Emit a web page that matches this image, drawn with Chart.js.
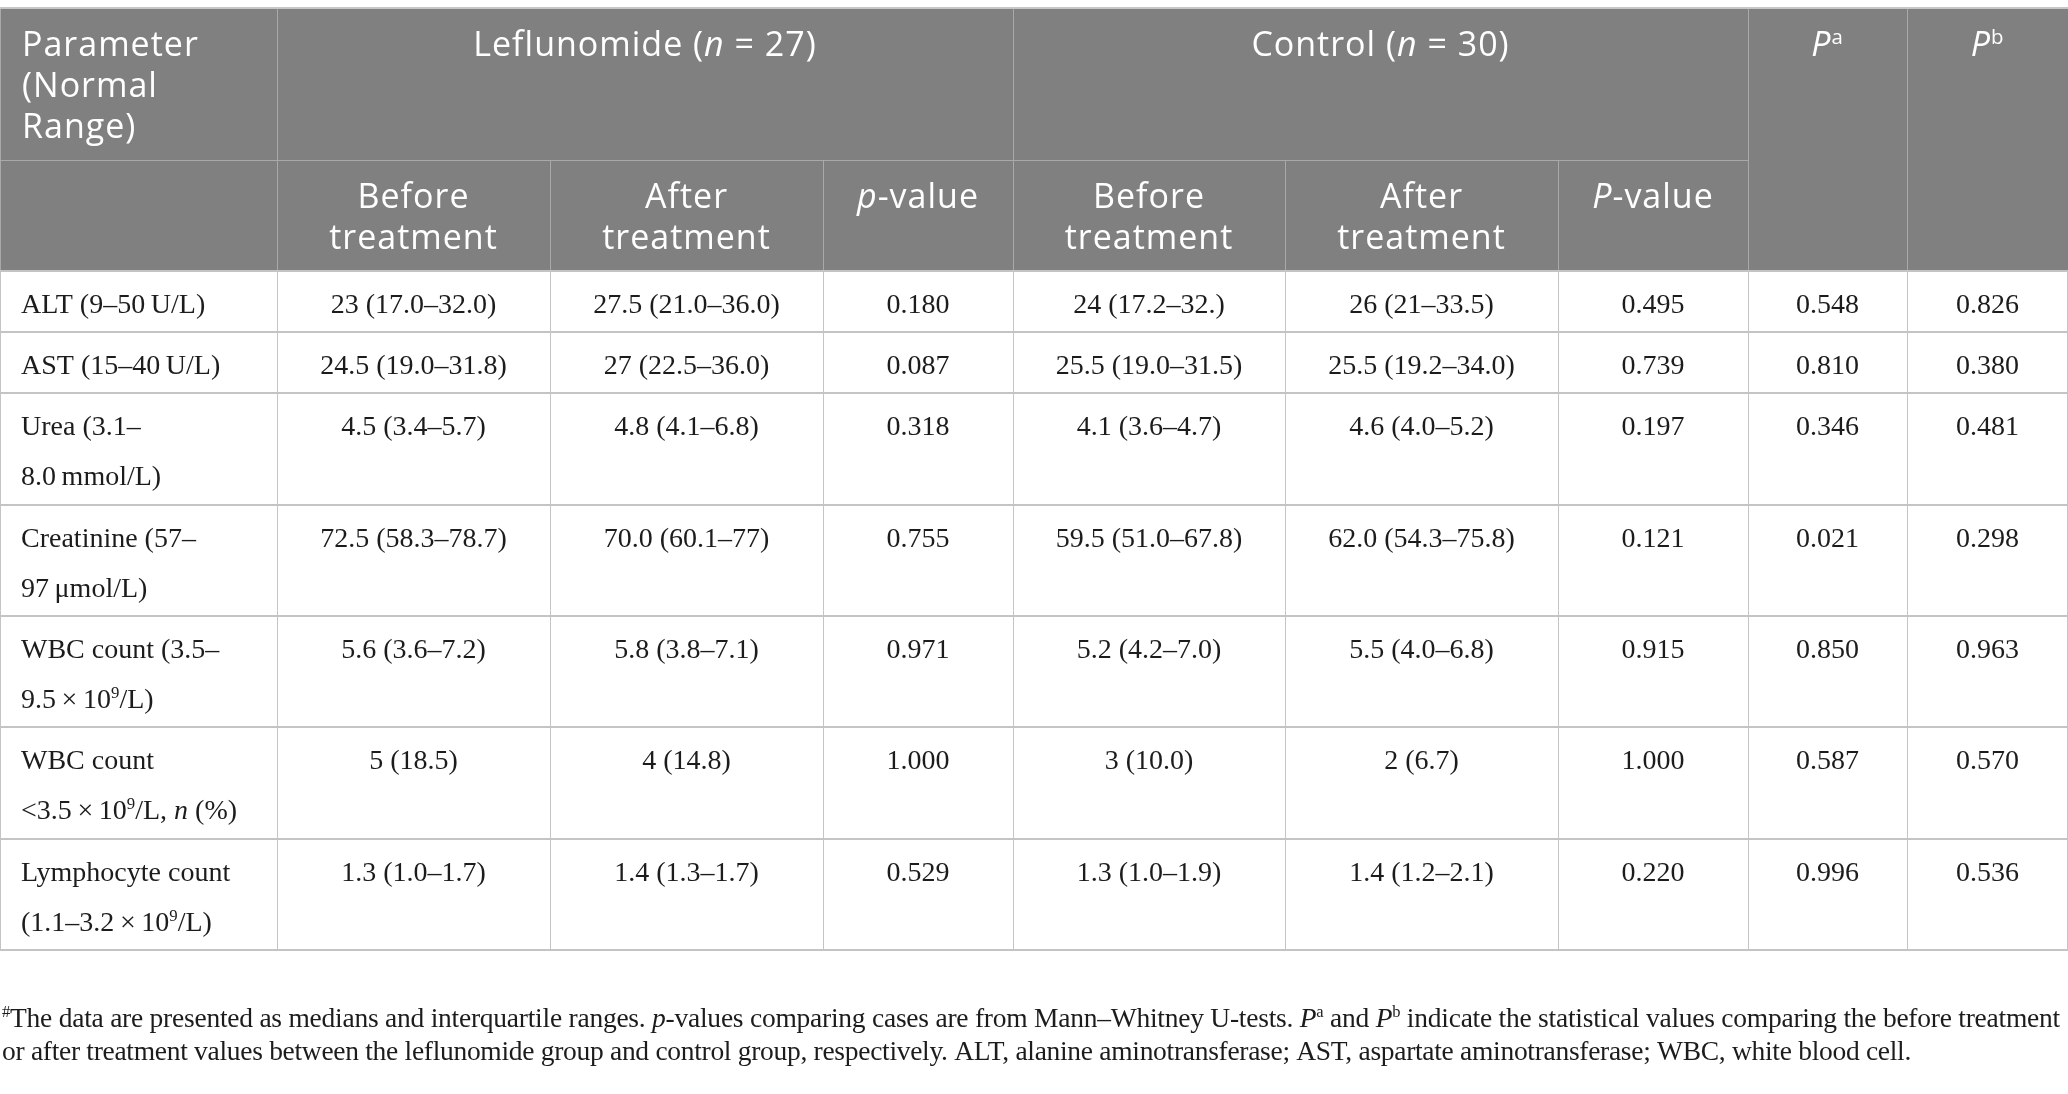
<!DOCTYPE html>
<html>
<head>
<meta charset="utf-8">
<script src="https://cdn.jsdelivr.net/npm/chart.js@4"></script>
<style>
  html, body { margin: 0; padding: 0; background: #fff; }
  #wrap { position: relative; width: 2068px; height: 1094px; }
</style>
</head>
<body>
<div id="wrap"><canvas id="tableChart"></canvas></div>
<script>
// --- Table data (markup: _italic_, ^superscript^) ---
const headerParam = 'Parameter\n(Normal\nRange)';
const groupHeaders = ['Leflunomide (_n_ = 27)', 'Control (_n_ = 30)'];
const subHeaders = ['Before\ntreatment', 'After\ntreatment', '_p_-value', 'Before\ntreatment', 'After\ntreatment', '_P_-value'];
const pHeaders = ['_P_^a^', '_P_^b^'];

const parameters = [
    'ALT (9–50\u2009U/L)',
    'AST (15–40\u2009U/L)',
    'Urea (3.1–\n8.0\u2009mmol/L)',
    'Creatinine (57–\n97\u2009μmol/L)',
    'WBC count (3.5–\n9.5\u2009×\u200910^9^/L)',
    'WBC count\n<3.5\u2009×\u200910^9^/L, _n_ (%)',
    'Lymphocyte count\n(1.1–3.2\u2009×\u200910^9^/L)'
];
const lefBefore = ['23 (17.0–32.0)', '24.5 (19.0–31.8)', '4.5 (3.4–5.7)', '72.5 (58.3–78.7)', '5.6 (3.6–7.2)', '5 (18.5)', '1.3 (1.0–1.7)'];
const lefAfter = ['27.5 (21.0–36.0)', '27 (22.5–36.0)', '4.8 (4.1–6.8)', '70.0 (60.1–77)', '5.8 (3.8–7.1)', '4 (14.8)', '1.4 (1.3–1.7)'];
const lefP = ['0.180', '0.087', '0.318', '0.755', '0.971', '1.000', '0.529'];
const ctrlBefore = ['24 (17.2–32.)', '25.5 (19.0–31.5)', '4.1 (3.6–4.7)', '59.5 (51.0–67.8)', '5.2 (4.2–7.0)', '3 (10.0)', '1.3 (1.0–1.9)'];
const ctrlAfter = ['26 (21–33.5)', '25.5 (19.2–34.0)', '4.6 (4.0–5.2)', '62.0 (54.3–75.8)', '5.5 (4.0–6.8)', '2 (6.7)', '1.4 (1.2–2.1)'];
const ctrlP = ['0.495', '0.739', '0.197', '0.121', '0.915', '1.000', '0.220'];
const pA = ['0.548', '0.810', '0.346', '0.021', '0.850', '0.587', '0.996'];
const pB = ['0.826', '0.380', '0.481', '0.298', '0.963', '0.570', '0.536'];

const footnoteLines = [
    '^#^The data are presented as medians and interquartile ranges. _p_-values comparing cases are from Mann–Whitney U-tests. _P_^a^ and _P_^b^ indicate the statistical values comparing the before treatment',
    'or after treatment values between the leflunomide group and control group, respectively. ALT, alanine aminotransferase; AST, aspartate aminotransferase; WBC, white blood cell.'
];

// --- Layout (scale units = page pixels) ---
const colEdges = [0, 277, 550, 823, 1013, 1285, 1558, 1748, 1907, 2068];
const rowEdges = [8, 160, 271, 332, 393, 505, 616, 727, 839, 950];
const footnoteBaselines = [1027, 1060];
const footnoteWidths = [2058, 1909];

const headFont = { family: '"Open Sans"', size: 34, spacing: '1px', color: '#ffffff' };
const bodyFont = { family: '"Liberation Serif"', size: 28, spacing: '0px', color: '#1c1c1c' };
const noteFont = { family: '"Liberation Serif"', size: 27.5, spacing: '0px', color: '#1c1c1c' };

// --- Rich text helpers ---
function parseRich(str) {
    const segs = [];
    let it = false, sup = false, buf = '';
    for (const ch of str) {
        if (ch === '_' || ch === '^') {
            if (buf) segs.push({ t: buf, it, sup });
            buf = '';
            if (ch === '_') it = !it; else sup = !sup;
        } else {
            buf += ch;
        }
    }
    if (buf) segs.push({ t: buf, it, sup });
    return segs;
}

function fontFor(seg, f) {
    const size = seg.sup ? f.size * 0.6 : f.size;
    return (seg.it ? 'italic ' : '') + size + 'px ' + f.family;
}

function measureRich(ctx, segs, f) {
    let w = 0;
    segs.forEach(s => { ctx.font = fontFor(s, f); w += ctx.measureText(s.t).width; });
    return w;
}

// fitWidth: optional width the line is stretched/squeezed to (justified footnote)
function drawRich(ctx, str, x, y, align, f, fitWidth) {
    const segs = parseRich(str);
    ctx.letterSpacing = f.spacing;
    if (fitWidth) {
        ctx.letterSpacing = '0px';
        const natural = measureRich(ctx, segs, f);
        const chars = segs.reduce((n, s) => n + s.t.length, 0);
        ctx.letterSpacing = ((fitWidth - natural) / chars).toFixed(3) + 'px';
    }
    const w = measureRich(ctx, segs, f);
    let cx = align === 'center' ? x - w / 2 : x;
    ctx.fillStyle = f.color;
    segs.forEach(s => {
        ctx.font = fontFor(s, f);
        ctx.fillText(s.t, cx, s.sup ? y - f.size * 0.36 : y);
        cx += ctx.measureText(s.t).width;
    });
}

function drawLines(ctx, text, x, top, pad, lineH, align, f) {
    text.split('\n').forEach((line, i) => drawRich(ctx, line, x, top + pad + i * lineH, align, f));
}

// header cells: column span c0..c1, row span r0..r1 (rows of rowEdges)
const headerCells = [
    { text: headerParam, c0: 0, c1: 1, r0: 0, r1: 1, align: 'left' },
    { text: '', c0: 0, c1: 1, r0: 1, r1: 2 },
    { text: groupHeaders[0], c0: 1, c1: 4, r0: 0, r1: 1 },
    { text: groupHeaders[1], c0: 4, c1: 7, r0: 0, r1: 1 },
    { text: pHeaders[0], c0: 7, c1: 8, r0: 0, r1: 2 },
    { text: pHeaders[1], c0: 8, c1: 9, r0: 0, r1: 2 }
];
subHeaders.forEach((t, i) => headerCells.push({ text: t, c0: i + 1, c1: i + 2, r0: 1, r1: 2 }));

const bodyColumns = [parameters, lefBefore, lefAfter, lefP, ctrlBefore, ctrlAfter, ctrlP, pA, pB];

const tablePlugin = {
    id: 'tablePlugin',
    afterDraw(chart) {
        const ctx = chart.ctx;
        const xs = chart.scales.x, ys = chart.scales.y;
        const X = v => xs.getPixelForValue(v);
        const Y = v => ys.getPixelForValue(v);
        ctx.save();
        ctx.textBaseline = 'alphabetic';
        ctx.textAlign = 'left';

        // header background
        ctx.fillStyle = '#7f807f';
        ctx.fillRect(X(colEdges[0]), Y(rowEdges[0]), X(colEdges[9]) - X(colEdges[0]), Y(rowEdges[2]) - Y(rowEdges[0]));

        // header cells
        headerCells.forEach(c => {
            const x0 = X(colEdges[c.c0]), x1 = X(colEdges[c.c1]);
            const y0 = Y(rowEdges[c.r0]), y1 = Y(rowEdges[c.r1]);
            ctx.strokeStyle = '#a9a9a9';
            ctx.lineWidth = 1;
            ctx.strokeRect(Math.round(x0) + 0.5, Math.round(y0) + 0.5, Math.round(x1 - x0), Math.round(y1 - y0));
            if (!c.text) return;
            const left = c.align === 'left';
            drawLines(ctx, c.text, left ? x0 + 22 : (x0 + x1) / 2, y0, 48, 41, left ? 'left' : 'center', headFont);
        });

        // top border
        ctx.fillStyle = '#c6c6c6';
        ctx.fillRect(X(colEdges[0]), Y(rowEdges[0]) - 1, X(colEdges[9]) - X(colEdges[0]), 2);

        // body grid
        ctx.strokeStyle = '#c4c4c4';
        ctx.lineWidth = 1;
        for (let c = 0; c < colEdges.length; c++) {
            const x = Math.min(Math.round(X(colEdges[c])), X(colEdges[9]) - 1) + 0.5;
            ctx.beginPath();
            ctx.moveTo(x, Y(rowEdges[2]));
            ctx.lineTo(x, Y(rowEdges[rowEdges.length - 1]));
            ctx.stroke();
        }
        ctx.fillStyle = '#c4c4c4';
        for (let r = 2; r < rowEdges.length; r++) {
            ctx.fillRect(X(colEdges[0]), Math.round(Y(rowEdges[r])) - 1, X(colEdges[9]) - X(colEdges[0]), 2);
        }

        // body text
        bodyColumns.forEach((col, c) => {
            col.forEach((txt, r) => {
                const x0 = X(colEdges[c]), x1 = X(colEdges[c + 1]);
                const top = Y(rowEdges[r + 2]);
                if (c === 0) drawLines(ctx, txt, x0 + 21, top, 42, 50, 'left', bodyFont);
                else drawLines(ctx, txt, (x0 + x1) / 2, top, 42, 50, 'center', bodyFont);
            });
        });

        // footnote
        footnoteLines.forEach((line, i) => drawRich(ctx, line, X(colEdges[0]) + 2, Y(footnoteBaselines[i]), 'left', noteFont, footnoteWidths[i]));
        ctx.restore();
    }
};

new Chart(document.getElementById('tableChart'), {
    type: 'scatter',
    data: { datasets: [] },
    options: {
        responsive: true,
        maintainAspectRatio: false,
        animation: false,
        layout: { padding: 0 },
        plugins: { legend: { display: false }, tooltip: { enabled: false } },
        scales: {
            x: { type: 'linear', min: 0, max: 2068, display: false },
            y: { type: 'linear', min: 0, max: 1094, reverse: true, display: false }
        }
    },
    plugins: [tablePlugin]
});
</script>
</body>
</html>
